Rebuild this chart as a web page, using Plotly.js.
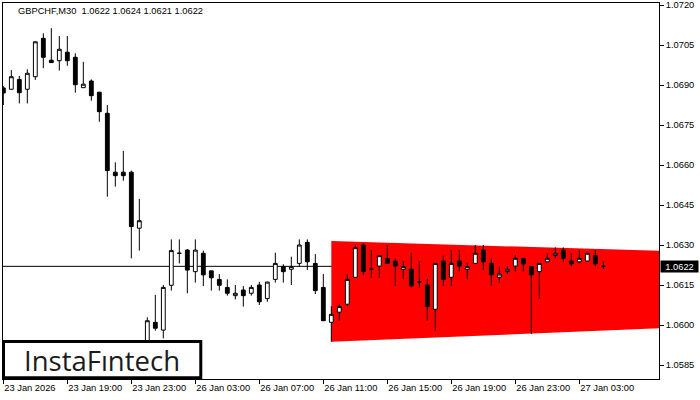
<!DOCTYPE html>
<html>
<head>
<meta charset="utf-8">
<script src="https://cdn.plot.ly/plotly-3.0.1.min.js"></script>
<style>html,body{margin:0;padding:0;background:#fff;}#chart{width:700px;height:400px;}</style>
</head>
<body>
<div id="chart"></div>
<script>
const times = [
"23 Jan 15:00","23 Jan 15:30","23 Jan 16:00","23 Jan 16:30","23 Jan 17:00","23 Jan 17:30","23 Jan 18:00","23 Jan 18:30",
"23 Jan 19:00","23 Jan 19:30","23 Jan 20:00","23 Jan 20:30","23 Jan 21:00","23 Jan 21:30","23 Jan 22:00","23 Jan 22:30",
"23 Jan 23:00","23 Jan 23:30",
"26 Jan 00:00","26 Jan 00:30","26 Jan 01:00","26 Jan 01:30","26 Jan 02:00","26 Jan 02:30","26 Jan 03:00","26 Jan 03:30",
"26 Jan 04:00","26 Jan 04:30","26 Jan 05:00","26 Jan 05:30","26 Jan 06:00","26 Jan 06:30","26 Jan 07:00","26 Jan 07:30",
"26 Jan 08:00","26 Jan 08:30","26 Jan 09:00","26 Jan 09:30","26 Jan 10:00","26 Jan 10:30","26 Jan 11:00","26 Jan 11:30",
"26 Jan 12:00","26 Jan 12:30","26 Jan 13:00","26 Jan 13:30","26 Jan 14:00","26 Jan 14:30","26 Jan 15:00","26 Jan 15:30",
"26 Jan 16:00","26 Jan 16:30","26 Jan 17:00","26 Jan 17:30","26 Jan 18:00","26 Jan 18:30","26 Jan 19:00","26 Jan 19:30",
"26 Jan 20:00","26 Jan 20:30","26 Jan 21:00","26 Jan 21:30","26 Jan 22:00","26 Jan 22:30","26 Jan 23:00","26 Jan 23:30",
"27 Jan 00:00","27 Jan 00:30","27 Jan 01:00","27 Jan 01:30","27 Jan 02:00","27 Jan 02:30","27 Jan 03:00","27 Jan 03:30",
"27 Jan 04:00","27 Jan 04:30"
];
const open = [1.06889,1.06884,1.06921,1.06884,1.06931,1.07075,1.06993,1.06991,1.07023,1.07004,1.06890,1.06915,1.06873,1.06794,1.06573,1.06573,1.06573,1.06363,
1.05925,1.06010,1.05981,1.06149,1.06269,1.06281,1.06200,1.06269,1.06203,1.06171,1.06141,1.06110,1.06131,1.06119,1.06150,1.06099,1.06171,1.06219,1.06209,1.06231,1.06310,1.06231,1.06141,
1.06010,1.06048,1.06078,1.06179,1.06300,1.06209,1.06221,1.06250,1.06239,1.06209,1.06209,1.06162,1.06150,1.06059,1.06240,1.06179,1.06240,1.06209,1.06231,1.06281,1.06231,1.06179,1.06200,1.06221,1.06250,
1.06219,1.06200,1.06237,1.06260,1.06281,1.06240,1.06237,1.06240,1.06260,1.06220];
const high = [1.06896,1.06956,1.06934,1.06959,1.07063,1.07094,1.07113,1.07084,1.07084,1.07019,1.06987,1.06921,1.06874,1.06825,1.06610,1.06653,1.06579,1.06473,
1.06029,1.06113,1.06150,1.06321,1.06321,1.06285,1.06321,1.06279,1.06203,1.06191,1.06171,1.06150,1.06146,1.06150,1.06162,1.06162,1.06271,1.06228,1.06256,1.06321,1.06321,1.06266,1.06191,
1.06071,1.06079,1.06191,1.06300,1.06305,1.06281,1.06260,1.06300,1.06250,1.06240,1.06271,1.06240,1.06173,1.06231,1.06260,1.06281,1.06281,1.06231,1.06300,1.06300,1.06250,1.06219,1.06221,1.06263,1.06250,
1.06221,1.06231,1.06269,1.06291,1.06291,1.06269,1.06281,1.06269,1.06281,1.06240];
const low = [1.06825,1.06882,1.06831,1.06831,1.06919,1.06963,1.06983,1.06954,1.06972,1.06871,1.06889,1.06841,1.06762,1.06481,1.06519,1.06541,1.06250,1.06279,
1.05906,1.05979,1.05950,1.06129,1.06231,1.06119,1.06159,1.06146,1.06129,1.06129,1.06110,1.06096,1.06069,1.06110,1.06075,1.06087,1.06159,1.06159,1.06150,1.06221,1.06206,1.06116,1.06016,
1.05937,1.06016,1.06071,1.06179,1.06188,1.06177,1.06177,1.06231,1.06147,1.06171,1.06141,1.06141,1.06016,1.05979,1.06147,1.06147,1.06200,1.06171,1.06231,1.06206,1.06147,1.06159,1.06191,1.06200,1.06200,
1.05966,1.06098,1.06237,1.06250,1.06237,1.06221,1.06231,1.06240,1.06221,1.06210];
const close = [1.06870,1.06931,1.06871,1.06944,1.07062,1.07004,1.06984,1.07034,1.06991,1.06901,1.06903,1.06860,1.06800,1.06579,1.06560,1.06560,1.06369,1.06391,
1.06016,1.05988,1.06141,1.06279,1.06269,1.06206,1.06281,1.06188,1.06177,1.06149,1.06119,1.06119,1.06110,1.06141,1.06087,1.06161,1.06231,1.06200,1.06219,1.06300,1.06237,1.06129,1.06016,
1.06040,1.06069,1.06171,1.06290,1.06200,1.06209,1.06260,1.06231,1.06221,1.06219,1.06147,1.06162,1.06069,1.06231,1.06171,1.06231,1.06221,1.06219,1.06269,1.06237,1.06188,1.06191,1.06209,1.06250,1.06229,
1.06188,1.06231,1.06250,1.06269,1.06250,1.06229,1.06250,1.06269,1.06229,1.06220];

const tickTimes = ["23 Jan 15:00","23 Jan 19:00","23 Jan 23:00","26 Jan 03:00","26 Jan 07:00","26 Jan 11:00","26 Jan 15:00","26 Jan 19:00","26 Jan 23:00","27 Jan 03:00"];
const tickText  = ["23 Jan 2026","23 Jan 19:00","23 Jan 23:00","26 Jan 03:00","26 Jan 07:00","26 Jan 11:00","26 Jan 15:00","26 Jan 19:00","26 Jan 23:00","27 Jan 03:00"];
const priceTicks = ["1.0585","1.0600","1.0615","1.0630","1.0645","1.0660","1.0675","1.0690","1.0705","1.0720"];

const patternStart = "26 Jan 11:30";
const patternEndIndex = 82;
const patternUpper = [1.06315, 1.06278];
const patternLower = [1.05937, 1.05988];
const currentPrice = 1.0622;
const headerText = "GBPCHF,M30 \u00a01.0622 1.0624 1.0621 1.0622";
const logoText = "InstaF\u0131ntech";

const idx = times.map((t, i) => i);
const ps = times.indexOf(patternStart);
const FONT = {family: "Liberation Sans, Arial, sans-serif", size: 9.3, color: "#000"};

const traces = [
  {type: "candlestick", x: idx, open: open, high: high, low: low, close: close,
   increasing: {line: {color: "#000", width: 1}, fillcolor: "#ffffff"},
   decreasing: {line: {color: "#000", width: 1}, fillcolor: "#000000"},
   whiskerwidth: 0, hoverinfo: "skip"}
];

const patternPath = "M " + ps + "," + patternUpper[0] + " L " + patternEndIndex + "," + patternUpper[1] +
  " L " + patternEndIndex + "," + patternLower[1] + " L " + ps + "," + patternLower[0] + " Z";

const layout = {
  width: 700, height: 400,
  margin: {l: 3, r: 41, t: 3, b: 21, pad: 0},
  paper_bgcolor: "#fff", plot_bgcolor: "#fff",
  showlegend: false,
  boxgap: 0.32,
  title: {text: headerText, x: 18/700, xanchor: "left", xref: "container", y: 1 - 11/400, yanchor: "middle", yref: "container", font: FONT},
  xaxis: {
    range: [-0.04, 81.96], tickmode: "array",
    tickvals: tickTimes.map(t => times.indexOf(t)), ticktext: tickText,
    ticks: "outside", ticklen: 4, tickcolor: "#000", tickwidth: 1,
    ticklabelposition: "outside right",
    showline: true, linecolor: "#000", linewidth: 1, mirror: true,
    showgrid: false, zeroline: false, rangeslider: {visible: false},
    tickfont: FONT, fixedrange: true
  },
  yaxis: {
    side: "right", range: [1.057975, 1.072075], tickmode: "array",
    tickvals: priceTicks.map(Number), ticktext: priceTicks,
    ticks: "outside", ticklen: 4, tickcolor: "#000", tickwidth: 1,
    showline: true, linecolor: "#000", linewidth: 1, mirror: true,
    showgrid: false, zeroline: false, tickfont: FONT, fixedrange: true
  },
  shapes: [
    {type: "path", xref: "x", yref: "y", path: patternPath, fillcolor: "#ff0000", line: {width: 0}, layer: "below"},
    {type: "line", xref: "paper", yref: "y", x0: 0, x1: 1, y0: currentPrice, y1: currentPrice,
     line: {color: "#000", width: 1}, layer: "below"},
    {type: "rect", xref: "paper", yref: "paper", x0: 0.0008, x1: 0.3015, y0: 0.0035, y1: 0.0997,
     fillcolor: "#fff", line: {color: "#000", width: 3}, layer: "above"}
  ],
  annotations: [
    {text: logoText, xref: "paper", yref: "paper", x: 0.151, y: 0.0505, xanchor: "center", yanchor: "middle",
     showarrow: false, font: {family: "Open Sans, sans-serif", size: 27.5, color: "#1b1b1b"}},
    {text: "1.0622", xref: "paper", yref: "y", x: 1, xanchor: "left", xshift: 1, y: currentPrice, yanchor: "middle",
     showarrow: false, bgcolor: "#000", borderpad: 0, width: 37, height: 11,
     font: {family: FONT.family, size: 9.3, color: "#fff"}}
  ]
};

Plotly.newPlot("chart", traces, layout, {staticPlot: true, displayModeBar: false});
</script>
</body>
</html>
